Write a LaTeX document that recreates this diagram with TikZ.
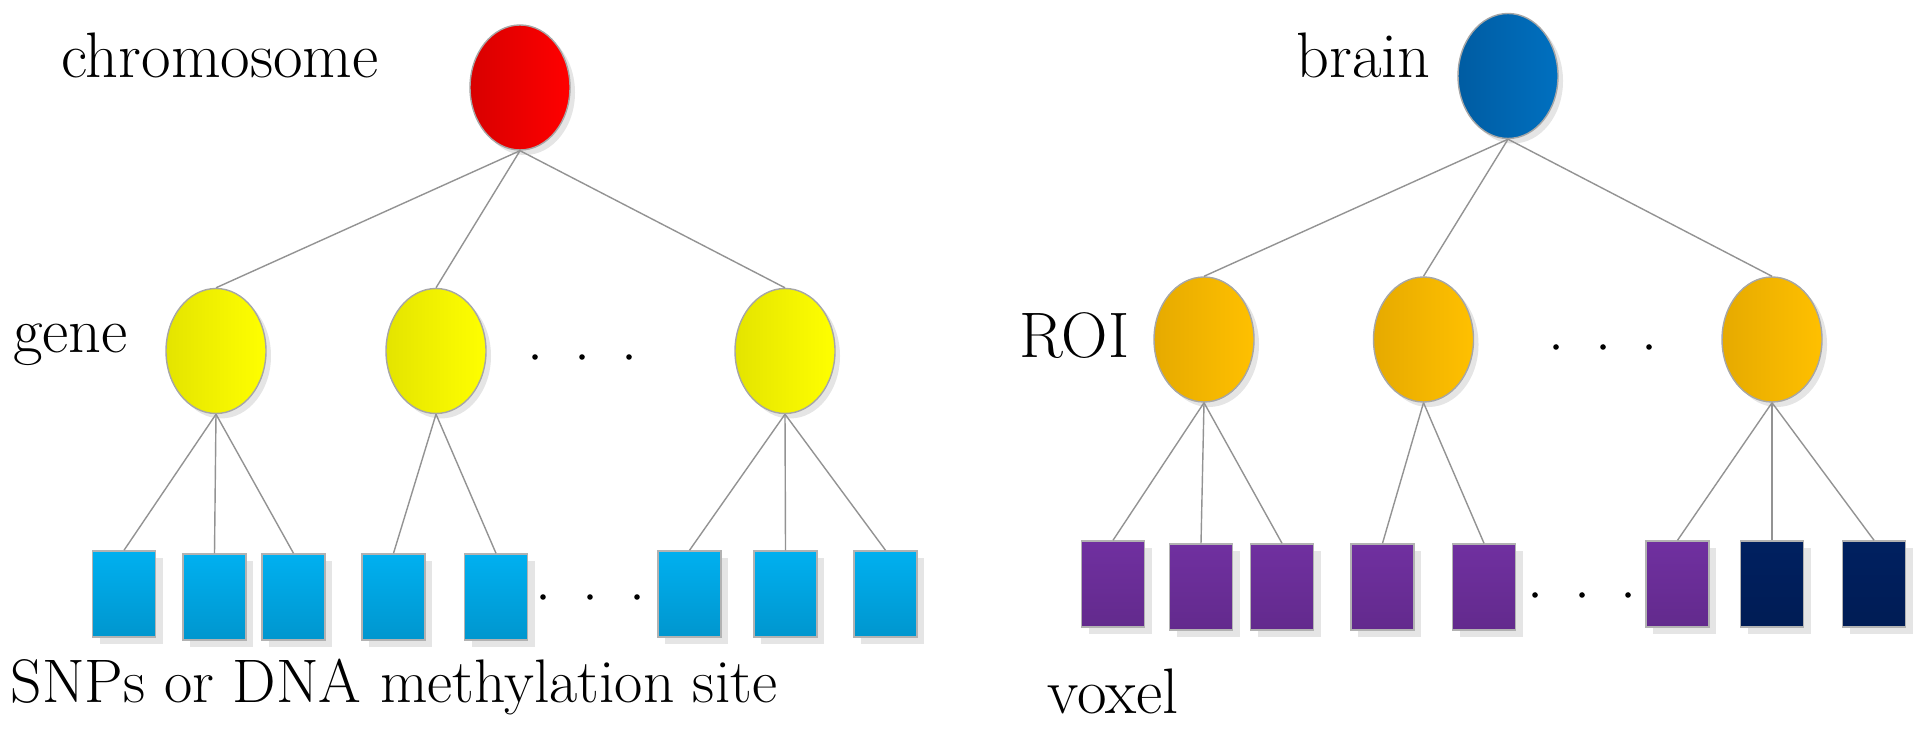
\documentclass[tikz,border=0pt]{standalone}
\usepackage{fontspec}
\usetikzlibrary{shapes.geometric,shadows}
\definecolor{chromL}{HTML}{D80000}
\definecolor{chromR}{HTML}{FF0000}
\definecolor{geneL}{HTML}{E4E400}
\definecolor{geneR}{HTML}{FFFF00}
\definecolor{brainL}{HTML}{005CA2}
\definecolor{brainR}{HTML}{0070C0}
\definecolor{roiL}{HTML}{E6AA00}
\definecolor{roiR}{HTML}{FFC000}
\definecolor{snpT}{HTML}{00B0F0}
\definecolor{snpB}{HTML}{0096CE}
\definecolor{voxT}{HTML}{7030A0}
\definecolor{voxN}{HTML}{002060}
\begin{document}
\begin{tikzpicture}[
    lbl/.style={anchor=base,font=\fontsize{18.3}{22}\selectfont},
    longlbl/.style={anchor=base,font=\fontsize{17.5}{21}\selectfont},
    knot/.style={ellipse,draw=gray!70,line width=0.4pt,inner sep=0pt,
        minimum width=1cm,minimum height=1.25cm,
        drop shadow={fill=black!10,opacity=1,shadow xshift=0.05cm,shadow yshift=-0.05cm}},
    leaf/.style={rectangle,draw=gray!60,line width=0.4pt,inner sep=0pt,
        minimum width=0.63cm,minimum height=0.86cm,
        drop shadow={fill=black!10,opacity=1,shadow xshift=0.07cm,shadow yshift=-0.07cm}},
    link/.style={draw=gray!85,line width=0.4pt}
]
    \useasboundingbox (0,0) rectangle (19.2,-7.37);
    \node[lbl] (chromlbl) at (2.20,-0.78) {chromosome};
    \node[lbl] (genelbl) at (0.705,-3.53) {gene};
    \node[longlbl] (snplbl) at (3.94,-7.02) {SNPs or DNA methylation site};
    \node[lbl] (brainlbl) at (13.635,-0.78) {brain};
    \node[lbl] (roilbl) at (10.745,-3.58) {ROI};
    \node[lbl] (voxlbl) at (11.13,-7.13) {voxel};
    \node[knot,left color=chromL,right color=chromR] (chrom) at (5.20,-0.875) {};
    \node[knot,left color=brainL,right color=brainR] (brain) at (15.08,-0.76) {};
    \foreach \x [count=\i] in {2.16,4.36,7.85} {
        \node[knot,left color=geneL,right color=geneR] (g\i) at (\x,-3.51) {};
        \draw[link] (chrom.south) -- (g\i.north);
    }
    \foreach \x [count=\i] in {12.04,14.235,17.72} {
        \node[knot,left color=roiL,right color=roiR] (r\i) at (\x,-3.395) {};
        \draw[link] (brain.south) -- (r\i.north);
    }
    \edef\parent{{1,1,1,2,2,3,3,3}}
    \foreach \x/\y [count=\i] in {1.24/-5.94,2.145/-5.97,2.935/-5.97,3.935/-5.97,4.96/-5.97,6.895/-5.94,7.855/-5.94,8.855/-5.94} {
        \pgfmathsetmacro\p{int(\parent[\i-1])}
        \node[leaf,top color=snpT,bottom color=snpB] (s\i) at (\x,\y) {};
        \draw[link] (g\p.south) -- (s\i.north);
    }
    \foreach \x/\y/\c [count=\i] in {11.13/-5.84/voxT,12.01/-5.87/voxT,12.82/-5.87/voxT,13.825/-5.87/voxT,14.84/-5.87/voxT,16.775/-5.84/voxT,17.72/-5.84/voxN,18.74/-5.84/voxN} {
        \pgfmathsetmacro\p{int(\parent[\i-1])}
        \node[leaf,top color=\c,bottom color=\c!88!black] (v\i) at (\x,\y) {};
        \draw[link] (r\p.south) -- (v\i.north);
    }
    \foreach \x in {5.35,5.82,6.29} \fill (\x,-3.57) circle (0.028);
    \foreach \x in {5.43,5.90,6.37} \fill (\x,-5.97) circle (0.028);
    \foreach \x in {15.56,16.03,16.49} \fill (\x,-3.47) circle (0.028);
    \foreach \x in {15.35,15.82,16.28} \fill (\x,-5.95) circle (0.028);
\end{tikzpicture}
\end{document}
